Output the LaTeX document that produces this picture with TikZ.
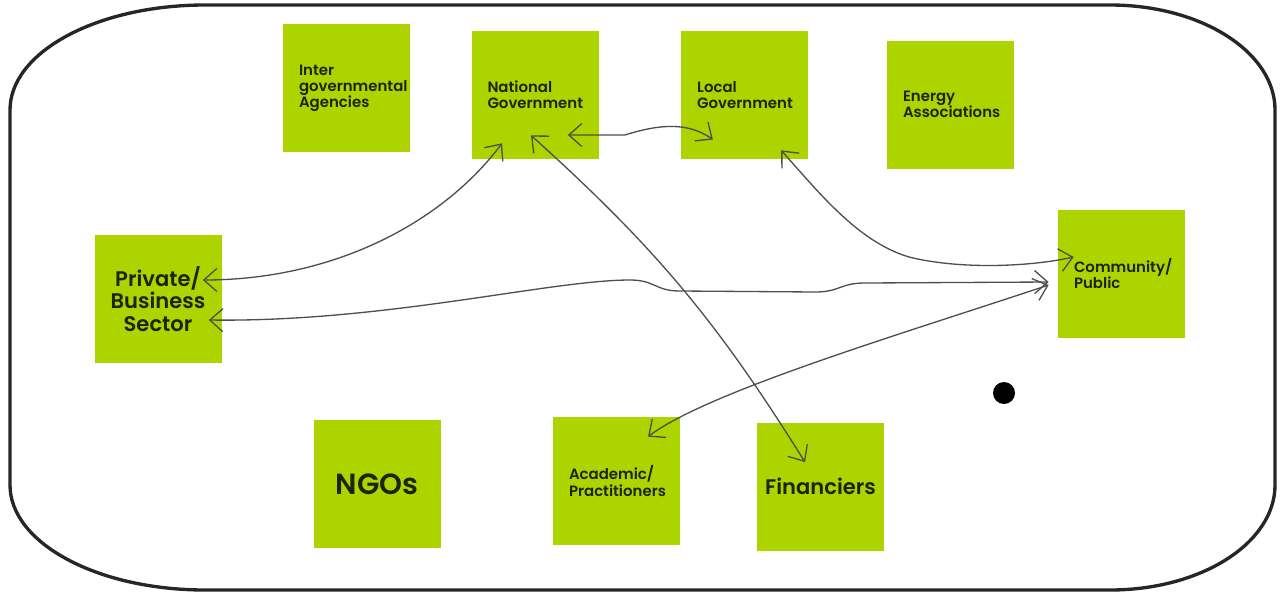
\documentclass[tikz,border=0pt]{standalone}
\usepackage{fontspec}
\newfontfamily\notefont{Poppins SemiBold}
\usepackage{tikz}
\usetikzlibrary{positioning, arrows.meta}
\definecolor{stickygreen}{RGB}{174,212,0}
\definecolor{pengray}{RGB}{78,78,78}
\definecolor{inkdark}{RGB}{28,36,12}
\tikzset{
    note/.style={fill=stickygreen, minimum width=2.54cm, minimum height=2.56cm, inner sep=0pt, text width=1.9cm, align=left, text=inkdark, font=\notefont\fontsize{8.5}{9.2}\selectfont},
    big_note/.style={note, text width=2.4cm, align=center, font=\notefont\fontsize{12}{12.8}\selectfont},
    frame/.style={draw=black!85, line width=1.9pt},
    link_arrow/.style={draw=pengray, line width=0.75pt, {Straight Barb[length=2.6mm,width=4.6mm]}-{Straight Barb[length=2.6mm,width=4.6mm]}}
}

\begin{document}
\begin{tikzpicture}
      \useasboundingbox (0,0) rectangle (25.76,11.88);

      % --- Outer frame ---
      \draw[frame] (4.1,11.78) -- (22.2,11.78)
          arc[start angle=90, end angle=0, x radius=3.3cm, y radius=2.1cm] -- (25.5,2.18)
          arc[start angle=0, end angle=-90, x radius=3.3cm, y radius=2.1cm] -- (4.1,0.08)
          arc[start angle=270, end angle=180, x radius=3.9cm, y radius=2.1cm] -- (0.2,9.68)
          arc[start angle=180, end angle=90, x radius=3.9cm, y radius=2.1cm] -- cycle;

      % --- Top row of notes ---
      \node (interAgency) [note] at (6.93,10.12) {Inter\\governmental\\Agencies};
      \node (natGov) [note] at (10.70,9.98) {National\\Government};
      \node (localGov) [note, right=1.64cm of natGov] {Local\\Government};
      \node (energyAssoc) [note] at (19.01,9.79) {Energy\\Associations};

      % --- Middle row ---
      \node (privSector) [big_note] at (3.16,5.90) {Private/\\Business\\Sector};
      \node (community) [note] at (22.43,6.41) {Community/\\Public};
      \node (blackDot) [circle, fill=black, minimum size=0.44cm, inner sep=0pt] at (20.08,4.02) {};

      % --- Bottom row ---
      \node (ngos) [big_note, font=\notefont\fontsize{16.6}{17}\selectfont] at (7.54,2.20) {NGOs};
      \node (academic) [note] at (12.33,2.26) {Academic/\\Practitioners};
      \node (financiers) [big_note] at (16.41,2.15) {Financiers};

      % --- Links between stakeholders ---
      \draw[link_arrow] ([xshift=-0.38cm,yshift=0.38cm]privSector.east)
          .. controls +(2.6,0) and +(-1.2,-1.6) .. ([xshift=-0.66cm,yshift=0.32cm]natGov.south);
      \draw[link_arrow] ([xshift=-0.08cm,yshift=0.48cm]natGov.south)
          to[bend left=8] ([xshift=-0.31cm,yshift=-0.80cm]financiers.north);
      \draw[link_arrow] ([xshift=-0.62cm,yshift=-0.80cm]natGov.east) -- ++(1.14,0)
          .. controls +(0.7,0.22) and +(-0.5,0.35) .. ([xshift=0.64cm,yshift=-0.89cm]localGov.west);
      \draw[link_arrow] ([xshift=0.73cm,yshift=0.18cm]localGov.south)
          .. controls +(0.8,-0.9) and +(-1.0,0.3) .. (18.18,6.74)
          .. controls +(1.0,-0.25) and +(-0.9,-0.2) .. ([xshift=0.32cm,yshift=0.33cm]community.west);
      \draw[link_arrow] ([xshift=-0.26cm,yshift=-0.42cm]privSector.east)
          .. controls +(3.5,-0.05) and +(-1.6,0) .. (12.6,6.28)
          .. controls +(0.5,0) and +(-0.5,0) .. (13.6,6.06) -- (16.3,6.04)
          .. controls +(0.5,0) and +(-0.5,0) .. (17.3,6.22) -- ([xshift=-0.18cm,yshift=-0.17cm]community.west);
      \draw[link_arrow] ([xshift=0.63cm,yshift=-0.40cm]academic.north)
          .. controls +(1.2,0.9) and +(-3.0,-1.0) .. ([xshift=-0.18cm,yshift=-0.23cm]community.west);
\end{tikzpicture}
\end{document}
